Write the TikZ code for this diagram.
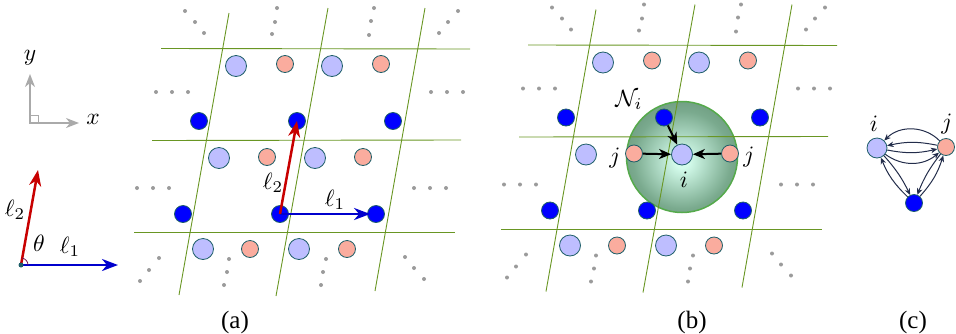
\RequirePackage{fix-cm}
\documentclass[tikz,border=0pt]{standalone}
\usepackage{fontspec}
\newfontfamily\capfont{Liberation Serif}
\usetikzlibrary{arrows.meta}
\definecolor{glc}{RGB}{105,150,35}
\definecolor{grd}{RGB}{155,155,155}
\definecolor{bdc}{RGB}{0,0,255}
\definecolor{puc}{RGB}{190,190,255}
\definecolor{pkc}{RGB}{250,172,158}
\definecolor{olc}{RGB}{30,95,105}
\definecolor{redv}{RGB}{200,0,0}
\definecolor{bluev}{RGB}{0,0,205}
\definecolor{axc}{RGB}{170,170,170}
\definecolor{sphin}{RGB}{212,252,236}
\definecolor{sphmid}{RGB}{122,170,142}
\definecolor{sphout}{RGB}{76,116,88}
\definecolor{sphline}{RGB}{85,170,75}
\definecolor{navy}{RGB}{35,45,75}
\definecolor{thc}{RGB}{120,20,80}
\pgfdeclareradialshading{sphshade}{\pgfpoint{0bp}{-2bp}}{color(0bp)=(sphin); color(3bp)=(sphin); color(22bp)=(sphmid); color(46bp)=(sphout); color(60bp)=(sphout)}
\newcommand\mylattice[1]{%
  \draw[gline] (161,48.5) -- (470,49);
  \draw[gline] (152,140.5) -- (461,140);
  \draw[gline] (134,232.7) -- (455,232.7);
  \draw[gline] (229,13) -- (179,295);
  \draw[gline] (328,8) -- (276,296);
  \draw[gline] (425,8) -- (375,291);
  \foreach \px/\py in {185/11,195/22,204/33, 277/8,275/22,272/34, 374/8,371/21,369/35,
      458/11,448/22,439/33, 156/92,172/92,188/92, 431/92,447/92,463/92,
      137/188,153/188,169/188, 414/188,430/188,446/188, 159/258,149/270,140/281,
      229/259,227/272,224/285, 326/259,323/272,321/285, 405/257,414/268,424/279}
    \fill[grd] (\px,\py) circle[radius=2];
  \node[pu] (#1-pu1) at (236,66) {};
  \node[pu] (#1-pu2) at (332,66) {};
  \node[pu] (#1-pu3) at (219,158) {};
  \node[pu] (#1-pu4) at (315,158) {};
  \node[pu] (#1-pu5) at (203,249) {};
  \node[pu] (#1-pu6) at (299,249) {};
  \node[pk] (#1-pk1) at (285,64) {};
  \node[pk] (#1-pk2) at (381,64) {};
  \node[pk] (#1-pk3) at (267,157) {};
  \node[pk] (#1-pk4) at (363,157) {};
  \node[pk] (#1-pk5) at (250,249) {};
  \node[pk] (#1-pk6) at (347,249) {};
  \node[bd] (#1-bd1) at (199,121) {};
  \node[bd] (#1-bd2) at (297,121) {};
  \node[bd] (#1-bd3) at (393,121) {};
  \node[bd] (#1-bd4) at (183,214) {};
  \node[bd] (#1-bd5) at (280,214) {};
  \node[bd] (#1-bd6) at (376,214) {};
}
\begin{document}
\begin{tikzpicture}[x=1pt,y=-1pt,
  gline/.style={glc, line width=0.9pt},
  bd/.style={circle, draw=olc, fill=bdc, line width=0.8pt, minimum size=17pt, inner sep=0pt},
  pu/.style={circle, draw=olc, fill=puc, line width=0.8pt, minimum size=21pt, inner sep=0pt},
  pk/.style={circle, draw=olc, fill=pkc, line width=0.8pt, minimum size=17pt, inner sep=0pt},
  lab/.style={font=\fontsize{10}{12}\selectfont, inner sep=0pt, scale=2.35},
  captxt/.style={font=\capfont\fontsize{25}{28}\selectfont, inner sep=0pt},
  vec/.style={line width=2.5pt, -{Stealth[length=16pt,width=12pt,inset=5pt]}},
  nb/.style={black, line width=2pt, -{Stealth[length=12pt,width=10pt,inset=3.5pt]}},
  ce/.style={navy, line width=1pt, -{Stealth[length=6.5pt,width=5.5pt,inset=2pt]}},
  sphere/.style={circle, minimum size=111pt, inner sep=0pt, shading=sphshade, draw=sphline, line width=1.5pt}
]
\useasboundingbox (0,0) rectangle (956,333);

% ---- axes ----
\coordinate (ao) at (30,123);
\coordinate (ay) at (30,74);
\coordinate (ax) at (79,123);
\draw[axc, line width=1.6pt, {Stealth[length=13pt,width=10pt,inset=4pt]}-{Stealth[length=13pt,width=10pt,inset=4pt]}] (ay) -- (ao) -- (ax);
\draw[axc, line width=1pt] (30,115) -- (38,115) -- (38,123);
\node[lab] (ylab) at (30,58) {$y$};
\node[lab] (xlab) at (93,119) {$x$};

% ---- lattice vectors ----
\coordinate (o) at (21,265);
\coordinate (l1e) at (118,265);
\coordinate (l2e) at (38,170);
\draw[vec, bluev] (o) -- (l1e);
\draw[vec, redv] (o) -- (l2e);
\draw[thc, line width=0.8pt] (28,265) arc[start angle=0, end angle=-80, radius=7];
\fill[olc] (o) circle[radius=2.5];
\node[lab] (l2lab) at (15,210) {$\ell_2$};
\node[lab] (thlab) at (39,243) {$\theta$};
\node[lab] (l1lab) at (70,247) {$\ell_1$};

% ---- panel (a) ----
\mylattice{a}
\draw[vec, bluev, shorten >=-3pt] (a-bd5.center) -- (a-bd6.west);
\draw[vec, redv] (a-bd5.center) -- (a-bd2.center);
\node[lab] (al2) at (273,183) {$\ell_2$};
\node[lab] (al1) at (335,200) {$\ell_1$};
\node[captxt] (capa) at (235,322) {(a)};

% ---- panel (b) ----
\node[sphere] (nbhd) at (682,157) {};
\begin{scope}[shift={(367,-3.5)}]
\mylattice{b}
\end{scope}
\draw[nb] (b-bd2) -- (b-pu4);
\draw[nb] (b-pk3) -- (b-pu4);
\draw[nb] (b-pk4) -- (b-pu4);
\node[lab] (bj1) at (615,158) {$j$};
\node[lab] (bj2) at (749,157) {$j$};
\node[lab] (bi) at (684,180) {$i$};
\node[lab] (bN) at (629,100) {$\mathcal{N}_i$};
\node[captxt] (capb) at (692,322) {(b)};

% ---- panel (c) ----
\node[pu, minimum size=20pt] (ci) at (877,148) {};
\node[pk] (cj) at (946,147) {};
\node[bd] (cb) at (914,203) {};
\draw[ce] (cj) to[bend right=45] (ci);
\draw[ce] (cj) to[bend right=12] (ci);
\draw[ce] (ci) to[bend right=12] (cj);
\draw[ce] (ci) to[bend right=38] (cj);
\draw[ce] (ci) to[bend left=8] (cb);
\draw[ce] (cb) to[bend left=12] (ci);
\draw[ce] (cj) to[bend right=8] (cb);
\draw[ce] (cb) to[bend right=12] (cj);
\node[lab] (cil) at (874,124) {$i$};
\node[lab] (cjl) at (947,124) {$j$};
\node[captxt] (capc) at (913,322) {(c)};
\end{tikzpicture}
\end{document}
